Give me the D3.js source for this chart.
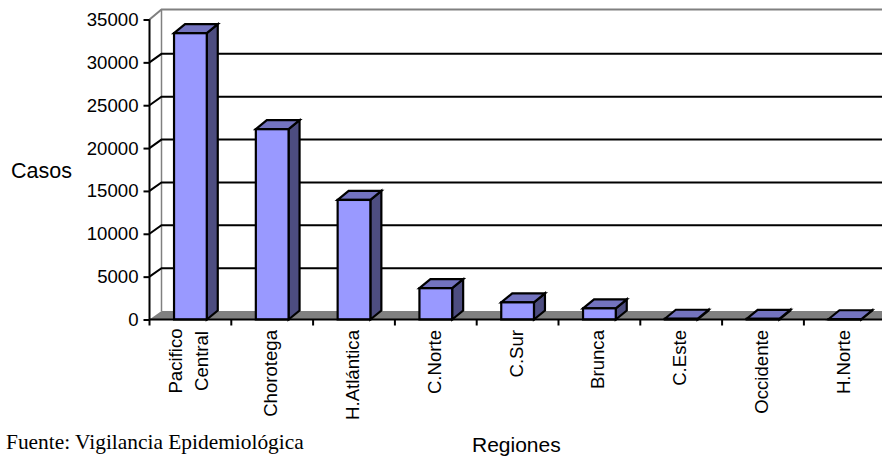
<!DOCTYPE html>
<html>
<head>
<meta charset="utf-8">
<script src="https://cdn.jsdelivr.net/npm/d3@7"></script>
<style>
html, body { margin: 0; padding: 0; background: #fff; }
svg { display: block; }
text { font-family: "Liberation Sans", Arial, sans-serif; fill: #000; }
</style>
</head>
<body>
<script>
// Case counts per health region
const regions = [["Pacifico", "Central"], ["Chorotega"], ["H.Atlántica"], ["C.Norte"], ["C.Sur"], ["Brunca"], ["C.Este"], ["Occidente"], ["H.Norte"]];
const cases = [33400, 22200, 13950, 3650, 2000, 1300, 90, 80, 30];
const yTicks = [0, 5000, 10000, 15000, 20000, 25000, 30000, 35000];

const width = 882, height = 457;
const baseY = 319.5, topY = 19.5, leftX = 149.5, bandW = 81.8;
const wallX = 12, wallY = 8.5, barDepthX = 11, barDepthY = 9;

const svg = d3.select("body").append("svg").attr("width", width).attr("height", height);

const y = d3.scaleLinear().domain([0, 35000]).range([baseY, topY]);
const x = d3.scaleBand().domain(d3.range(regions.length))
  .range([leftX, leftX + bandW * regions.length]).paddingInner(0.6).paddingOuter(0.3);
const tickX = d3.scaleLinear().domain([0, regions.length]).range([leftX, leftX + bandW * regions.length]);

const line = pts => d3.line()(pts);

// Floor of the 3D plot
svg.append("path")
  .attr("d", line([[leftX, baseY], [leftX + wallX, baseY - wallY], [width, baseY - wallY], [width, baseY]]) + "Z")
  .attr("fill", "#808080");

// Back wall outline
svg.append("path")
  .attr("d", line([[leftX, y(35000)], [leftX + wallX, y(35000) - 10], [width, y(35000) - 10]]))
  .attr("fill", "none").attr("stroke", "#808080").attr("stroke-width", 2);
svg.append("path")
  .attr("d", line([[leftX + wallX, y(35000) - 10], [leftX + wallX, baseY - wallY]]))
  .attr("fill", "none").attr("stroke", "#808080").attr("stroke-width", 1.5);

// Gridlines with their slanted run onto the side wall
svg.append("g").selectAll("path")
  .data(yTicks.filter(d => d > 0 && d < 35000))
  .join("path")
  .attr("d", d => line([[leftX, y(d)], [leftX + wallX, y(d) - wallY], [width, y(d) - wallY]]))
  .attr("fill", "none").attr("stroke", "#000").attr("stroke-width", 2);

// Bars: side, top, then front face
const bars = svg.append("g").selectAll("g").data(cases).join("g");
const barStyle = s => s.attr("stroke", "#000").attr("stroke-width", 2.2).attr("stroke-linejoin", "miter");
bars.append("path").call(barStyle).attr("fill", "#4d4d80")
  .attr("d", (d, i) => {
    const r = x(i) + x.bandwidth();
    return line([[r, y(d)], [r + barDepthX, y(d) - barDepthY], [r + barDepthX, baseY - barDepthY], [r, baseY]]) + "Z";
  });
bars.append("path").call(barStyle).attr("fill", "#7373bf")
  .attr("d", (d, i) => {
    const l = x(i), r = l + x.bandwidth();
    return line([[l, y(d)], [l + barDepthX, y(d) - barDepthY], [r + barDepthX, y(d) - barDepthY], [r, y(d)]]) + "Z";
  });
bars.append("rect").call(barStyle).attr("fill", "#9999ff")
  .attr("x", (d, i) => x(i)).attr("width", x.bandwidth())
  .attr("y", d => y(d)).attr("height", d => baseY - y(d));

// Value axis
const yAxis = svg.append("g").attr("transform", `translate(${leftX},0)`)
  .call(d3.axisLeft(y).tickValues(yTicks).tickFormat(d3.format("d")).tickSize(6).tickPadding(5));
yAxis.selectAll("path, line").attr("stroke", "#000").attr("stroke-width", 2);
yAxis.select(".domain").attr("d", `M0,${topY}V${baseY}`);
yAxis.selectAll("text").style("font-size", "18.6px").style("font-family", '"Liberation Sans", Arial, sans-serif');

// Category axis with ticks between the bars
svg.append("line").attr("x1", leftX).attr("x2", width).attr("y1", baseY).attr("y2", baseY)
  .attr("stroke", "#000").attr("stroke-width", 2);
svg.append("g").selectAll("line").data(d3.range(regions.length + 1)).join("line")
  .attr("x1", d => tickX(d)).attr("x2", d => tickX(d))
  .attr("y1", baseY).attr("y2", baseY + 6)
  .attr("stroke", "#000").attr("stroke-width", 2);

// Rotated category labels, one text per line
const labels = svg.append("g").selectAll("g").data(regions).join("g")
  .attr("transform", (d, i) => `translate(${x(i) + x.bandwidth() / 2},329) rotate(-90)`);
labels.selectAll("text").data(d => d.map((t, j) => ({ t, j, n: d.length }))).join("text")
  .attr("text-anchor", d => d.n > 1 ? "middle" : "end")
  .attr("x", d => d.n > 1 ? -32 : -1)
  .attr("y", d => d.n > 1 ? (d.j === 0 ? -8 : 18) : 5)
  .style("font-size", "18.6px")
  .text(d => d.t);

// Axis titles and source note
svg.append("text").attr("x", 11).attr("y", 178).style("font-size", "21.5px").text("Casos");
svg.append("text").attr("x", 472).attr("y", 452).style("font-size", "21px").text("Regiones");
svg.append("text").attr("x", 6).attr("y", 449).style("font-size", "21.4px")
  .style("font-family", '"Liberation Serif", "Times New Roman", serif')
  .text("Fuente: Vigilancia Epidemiológica");
</script>
</body>
</html>
